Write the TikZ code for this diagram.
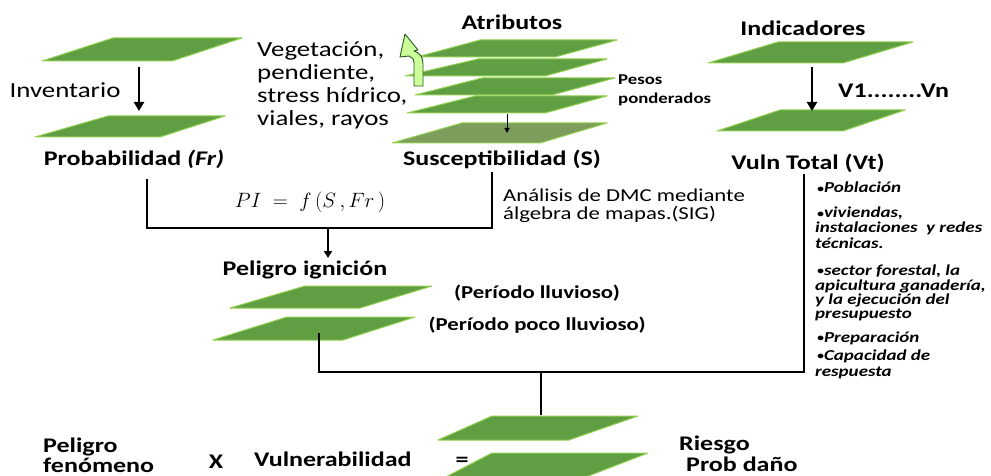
\documentclass[tikz,border=0pt]{standalone}
\usepackage{fontspec}
\setmainfont{Carlito}[FakeStretch=1.25]
\usetikzlibrary{arrows.meta}
\definecolor{lg}{RGB}{95,158,66}
\definecolor{lgedge}{RGB}{146,208,80}
\definecolor{olv}{RGB}{124,157,92}
\definecolor{arrf}{RGB}{204,255,153}
\definecolor{arrd}{RGB}{40,90,30}
% layer: [colour] tlx trx ty blx brx by
\newcommand\lyr[7][lg]{%
  \filldraw[fill=#1, draw=lgedge, line width=1pt, line join=round]
    (#2,#4) -- (#3,#4) -- (#6,#7) -- (#5,#7) -- cycle;}
\newcommand\bul{{\fontsize{11}{11}\selectfont\raisebox{0.5pt}{•}}}
\tikzset{
  big/.style={font=\bfseries\fontsize{20.8}{24}\selectfont, inner sep=0pt},
  reg/.style={font=\fontsize{21.5}{24}\selectfont, inner sep=0pt},
  med/.style={font=\bfseries\fontsize{18.2}{20}\selectfont, inner sep=0pt},
  sml/.style={font=\bfseries\fontsize{15}{16}\selectfont, inner sep=0pt},
  dmc/.style={font=\fontsize{18.2}{19}\selectfont, inner sep=0pt, anchor=base west},
  lst/.style={font=\bfseries\itshape\fontsize{15.2}{16}\selectfont, inner sep=0pt, anchor=base west},
  conn/.style={line width=2.2pt, line cap=rect},
  bigarrow/.style={line width=2.8pt, -{Triangle[width=10pt,length=9pt]}},
  smallarrow/.style={line width=1pt, -{Triangle[width=5pt,length=5pt]}},
}
\begin{document}
\begin{tikzpicture}[x=1pt,y=-1pt]
\useasboundingbox (0,0) rectangle (991,476);
\fill[white] (0,0) rectangle (991,476);

% ---------- left column: Inventario ----------
\lyr{113}{242}{38}{42}{172}{61}
\lyr{108}{225}{116}{35}{160}{137}
\coordinate (invA) at (139,67);
\coordinate (invB) at (139,111);
\draw[bigarrow] (invA) -- (invB);
\node[reg] (inv) at (65,90) {Inventario};
\node[big] (prob) at (134,159) {Probabilidad \textit{(Fr)}};

% ---------- middle column: Atributos ----------
\node[big] (atr) at (512,22) {Atributos};
\lyr{480}{617}{40}{417}{555}{57}
\lyr{478}{607}{59}{405}{545}{76}
\lyr{482}{615}{78}{415}{552}{95}
\lyr{475}{607}{96}{407}{545}{113}
\lyr[olv]{462}{607}{123}{392}{540}{143}
\coordinate (sa) at (507,114);
\coordinate (sb) at (507,133);
\draw[smallarrow] (sa) -- (sb);
% curved up arrow
\filldraw[fill=arrf, draw=arrd, line width=0.9pt, line join=round]
  (414,86) -- (414,63) .. controls (414,59) and (412,57) .. (409,56)
  -- (400,57) -- (405,34) -- (418,50) -- (414,51)
  .. controls (420,53) and (423,57) .. (423,64) -- (423,86) -- cycle;
\node[reg, anchor=base west] (veg1) at (257,57) {Vegetación,};
\node[reg, anchor=base west] (veg2) at (257,80) {pendiente,};
\node[reg, anchor=base west] (veg3) at (257,103) {stress hídrico,};
\node[reg, anchor=base west] (veg4) at (257,126) {viales, rayos};
\node[sml, anchor=base west] (pes1) at (618,85) {Pesos};
\node[sml, anchor=base west] (pes2) at (618,104) {ponderados};
\node[big] (sus) at (502,159) {Susceptibilidad (S)};

% ---------- right column: Indicadores ----------
\node[big] (ind) at (803,28) {Indicadores};
\lyr{778}{913}{42}{708}{843}{63}
\lyr{780}{905}{110}{717}{843}{131}
\coordinate (indA) at (812,67);
\coordinate (indB) at (812,111);
\draw[bigarrow] (indA) -- (indB);
\node[big, anchor=base west] (vn) at (838,98) {V1........Vn};
\node[big] (vt) at (808,163) {Vuln Total (Vt)};

% ---------- formula and DMC text ----------
\node[inner sep=0pt, font=\fontsize{21}{24}\selectfont] (pi) at (310,202)
  {$PI\;=\;f\,(S\,,Fr\,)$};
\node[dmc] (dmc1) at (503,201) {Análisis de DMC mediante};
\node[dmc] (dmc2) at (503,219) {álgebra de mapas.(SIG)};

% ---------- connectors to Peligro ignición ----------
\coordinate (probB) at (147,180);
\coordinate (susB) at (492,173);
\coordinate (j1) at (328,228);
\coordinate (pigT) at (328,258);
\draw[conn] (probB) |- (susB |- j1) -- (susB);
\draw[bigarrow, line width=2.2pt, -{Triangle[width=8pt,length=7pt]}] (j1) -- (pigT);

% ---------- Peligro ignicion ----------
\node[big] (pig) at (305,270) {Peligro ignición};
\lyr{305}{432}{286}{230}{360}{308}
\lyr{287}{415}{317}{213}{343}{340}
\node[med] (per1) at (537,293) {(Período lluvioso)};
\node[med] (per2) at (537,325) {(Período poco lluvioso)};

% ---------- vulnerability list ----------
\node[lst] (l1) at (817,193) {\bul Población};
\node[lst] (l2) at (817,218) {\bul viviendas,};
\node[lst] (l3) at (815,233) {instalaciones\ \ y redes};
\node[lst] (l4) at (815,248) {técnicas.};
\node[lst] (l5) at (817,275) {\bul sector forestal, la};
\node[lst] (l6) at (815,290) {apicultura ganadería,};
\node[lst] (l7) at (815,304) {y la ejecución del};
\node[lst] (l8) at (815,318) {presupuesto};
\node[lst] (l9) at (817,342) {\bul Preparación};
\node[lst] (l10) at (817,360) {\bul Capacidad de};
\node[lst] (l11) at (815,376) {respuesta};

% ---------- connectors to Riesgo ----------
\coordinate (vtB) at (804,175);
\coordinate (pigB) at (319,334);
\coordinate (j2) at (541,372);
\coordinate (rT) at (541,415);
\draw[conn] (vtB) |- (pigB |- j2) -- (pigB);
\draw[conn, line cap=butt] (j2) -- (rT);

% ---------- Riesgo ----------
\lyr{492}{638}{416}{438}{569}{440}
\lyr{492}{648}{453}{440}{578}{480}
\node[big, anchor=base west] (pf1) at (43,452) {Peligro};
\node[big, anchor=base west] (pf2) at (43,472) {fenómeno};
\node[big] (x) at (216,462) {X};
\node[big, anchor=west] (vul) at (254,459) {Vulnerabilidad};
\node[big] (eq) at (462,462) {=};
\node[big, anchor=base west] (rg1) at (679,450) {Riesgo};
\node[big, anchor=base west] (rg2) at (686,471) {Prob daño};
\end{tikzpicture}
\end{document}
